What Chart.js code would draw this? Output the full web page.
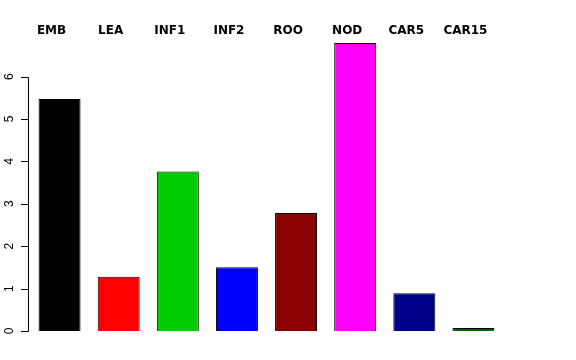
<!DOCTYPE html>
<html>
<head>
<meta charset="utf-8">
<script src="https://cdn.jsdelivr.net/npm/chart.js@4.4.0/dist/chart.umd.min.js"></script>
<style>
html,body{margin:0;padding:0;background:#fff;}
#wrap{width:576px;height:360px;position:relative;}
</style>
</head>
<body>
<div id="wrap"><canvas id="c" width="576" height="360"></canvas></div>
<script>
const categories = ["EMB", "LEA", "INF1", "INF2", "ROO", "NOD", "CAR5", "CAR15"];
const values = [5.47, 1.28, 3.76, 1.50, 2.78, 6.79, 0.89, 0.07];
const barColors = ["#000000", "#FF0000", "#00CD00", "#0000FF", "#8B0000", "#FF00FF", "#00008B", "#006400"];
const yTicks = [0, 1, 2, 3, 4, 5, 6];

const yAxisPlugin = {
  id: 'rAxis',
  afterDraw(chart) {
    const ctx = chart.ctx;
    const ys = chart.scales.y;
    const ax = 28.5;
    ctx.save();
    ctx.strokeStyle = '#000';
    ctx.lineWidth = 1;
    ctx.beginPath();
    ctx.moveTo(ax, Math.round(ys.getPixelForValue(yTicks[0])) + 0.5);
    ctx.lineTo(ax, Math.round(ys.getPixelForValue(yTicks[yTicks.length - 1])) + 0.5);
    yTicks.forEach(t => {
      const py = Math.round(ys.getPixelForValue(t)) + 0.5;
      ctx.moveTo(ax, py);
      ctx.lineTo(ax - 7.5, py);
    });
    ctx.stroke();
    ctx.fillStyle = '#000';
    ctx.font = '12px "Liberation Sans", Arial, sans-serif';
    ctx.textAlign = 'center';
    ctx.textBaseline = 'alphabetic';
    yTicks.forEach(t => {
      const py = ys.getPixelForValue(t);
      ctx.save();
      ctx.translate(12.5, py);
      ctx.rotate(-Math.PI / 2);
      ctx.fillText(String(t), 0, 0);
      ctx.restore();
    });
    ctx.restore();
  }
};

new Chart(document.getElementById('c'), {
  type: 'bar',
  data: {
    labels: categories,
    datasets: [{
      data: values,
      backgroundColor: barColors,
      borderColor: '#000000',
      borderWidth: 1,
      barPercentage: 0.71,
      categoryPercentage: 1.0
    }]
  },
  options: {
    responsive: false,
    animation: false,
    devicePixelRatio: 1,
    layout: { padding: { left: 30, right: 73, top: 24, bottom: 24.8 } },
    plugins: { legend: { display: false }, tooltip: { enabled: false } },
    scales: {
      x: {
        position: 'top',
        grid: { display: false, drawTicks: false },
        border: { display: false },
        ticks: {
          padding: 0,
          labelOffset: -8,
          color: '#000',
          font: { family: '"DejaVu Sans", sans-serif', size: 12, weight: 'bold' },
          maxRotation: 0, minRotation: 0, autoSkip: false
        }
      },
      y: {
        display: false,
        min: -0.1,
        max: 6.90
      }
    }
  },
  plugins: [yAxisPlugin]
});
</script>
</body>
</html>
